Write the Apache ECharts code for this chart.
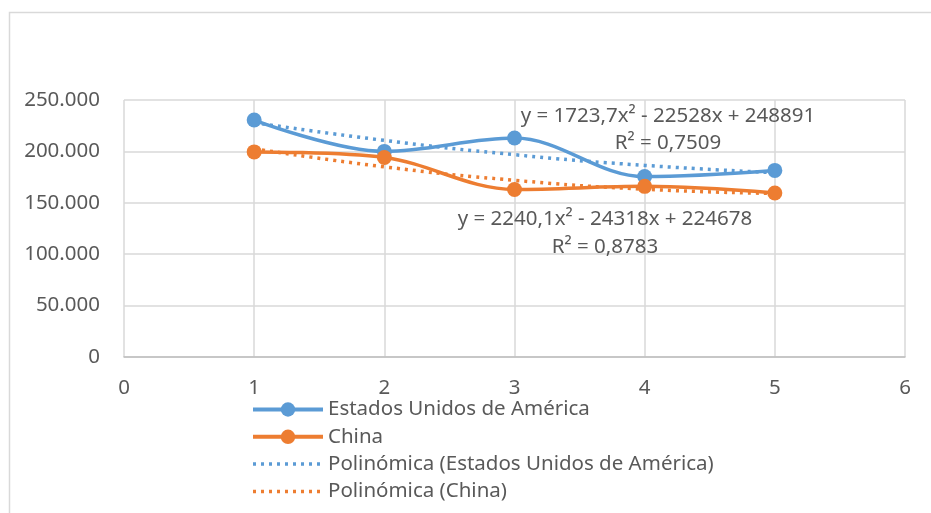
<!DOCTYPE html>
<html>
<head>
<meta charset="utf-8">
<script src="https://cdn.jsdelivr.net/npm/echarts@6/dist/echarts.min.js"></script>
<style>
html,body{margin:0;padding:0;background:#fff;}
#chart{width:931px;height:513px;}
</style>
</head>
<body>
<div id="chart"></div>
<script>
// datos
var xPuntos = [1, 2, 3, 4, 5];
var eeuu = [230500, 200000, 213000, 175500, 181500];
var china = [199500, 194000, 163000, 166000, 159500];
// lineas de tendencia
var tendEeuu = [228000, 210700, 196800, 186400, 179300];
var tendChina = [202600, 185000, 171900, 163200, 159100];
var nombres = ['Estados Unidos de América', 'China', 'Polinómica (Estados Unidos de América)', 'Polinómica (China)'];
var ecuEeuu = ['y = 1723,7x² - 22528x + 248891', 'R² = 0,7509'];
var ecuChina = ['y = 2240,1x² - 24318x + 224678', 'R² = 0,8783'];

var azul = '#5B9BD5';
var naranja = '#ED7D31';
var gris = '#595959';
var fuente = 'Noto Sans';
var letra = '20.5px "Noto Sans"';

function pares(valores){
	var out = [];
	for (var i = 0; i < xPuntos.length; i++) {
		out.push([xPuntos[i], valores[i]]);
	}
	return out;
}

function miles(v){
	return String(v).replace(/\B(?=(\d{3})+(?!\d))/g, '.');
}

function texto(x, y, t){
	return {type: 'text', x: x, y: y, z: 100, silent: true,
		style: {text: t, fill: gris, font: letra, align: 'center', verticalAlign: 'middle'}};
}

var myChart = echarts.init(document.getElementById('chart'));

var option = {
	animation: false,
	backgroundColor: '#fff',
	grid: {left: 124, right: 26, top: 100, bottom: 156},
	legend: {
		orient: 'vertical',
		left: 246,
		top: 394,
		itemWidth: 70,
		itemHeight: 18,
		itemGap: 6.3,
		data: [
			{name: nombres[0], lineStyle: {width: 4}},
			{name: nombres[1], lineStyle: {width: 4}},
			{name: nombres[2], itemStyle: {opacity: 0}, lineStyle: {width: 3.5}},
			{name: nombres[3], itemStyle: {opacity: 0}, lineStyle: {width: 3.5}}
		],
		textStyle: {fontFamily: fuente, fontSize: 20.5, color: gris}
	},
	xAxis: {
		type: 'value',
		min: 0,
		max: 6,
		interval: 1,
		axisLine: {show: true, lineStyle: {color: '#bfbfbf', width: 1.5}},
		axisTick: {show: false},
		axisLabel: {margin: 21, fontFamily: fuente, fontSize: 20.5, color: gris},
		splitLine: {show: true, lineStyle: {color: '#d9d9d9', width: 1.5}}
	},
	yAxis: {
		type: 'value',
		min: 0,
		max: 250000,
		interval: 50000,
		axisLine: {show: false},
		axisTick: {show: false},
		axisLabel: {margin: 24, fontFamily: fuente, fontSize: 20.5, color: gris, formatter: miles},
		splitLine: {show: true, lineStyle: {color: '#d9d9d9', width: 1.5}}
	},
	graphic: [
		{type: 'polyline', shape: {points: [[9.5, 513], [9.5, 12.5], [931, 12.5]]}, style: {stroke: '#d9d9d9', fill: null, lineWidth: 1.5}, silent: true},
		texto(668, 116, ecuEeuu[0]),
		texto(668, 143, ecuEeuu[1]),
		texto(605, 219, ecuChina[0]),
		texto(605, 247, ecuChina[1])
	],
	series: [
		{
			name: nombres[0],
			type: 'line',
			smooth: 0.35,
			data: pares(eeuu),
			symbol: 'circle',
			symbolSize: 15,
			itemStyle: {color: azul},
			lineStyle: {color: azul, width: 3.5}
		},
		{
			name: nombres[1],
			type: 'line',
			smooth: 0.35,
			data: pares(china),
			symbol: 'circle',
			symbolSize: 15,
			itemStyle: {color: naranja},
			lineStyle: {color: naranja, width: 3.5}
		},
		{
			name: nombres[2],
			type: 'line',
			smooth: true,
			data: pares(tendEeuu),
			symbol: 'none',
			itemStyle: {color: azul},
			lineStyle: {color: azul, width: 3.5, type: [3, 5], cap: 'butt'}
		},
		{
			name: nombres[3],
			type: 'line',
			smooth: true,
			data: pares(tendChina),
			symbol: 'none',
			itemStyle: {color: naranja},
			lineStyle: {color: naranja, width: 3.5, type: [3, 5], cap: 'butt'}
		}
	]
};
myChart.setOption(option);
</script>
</body>
</html>
